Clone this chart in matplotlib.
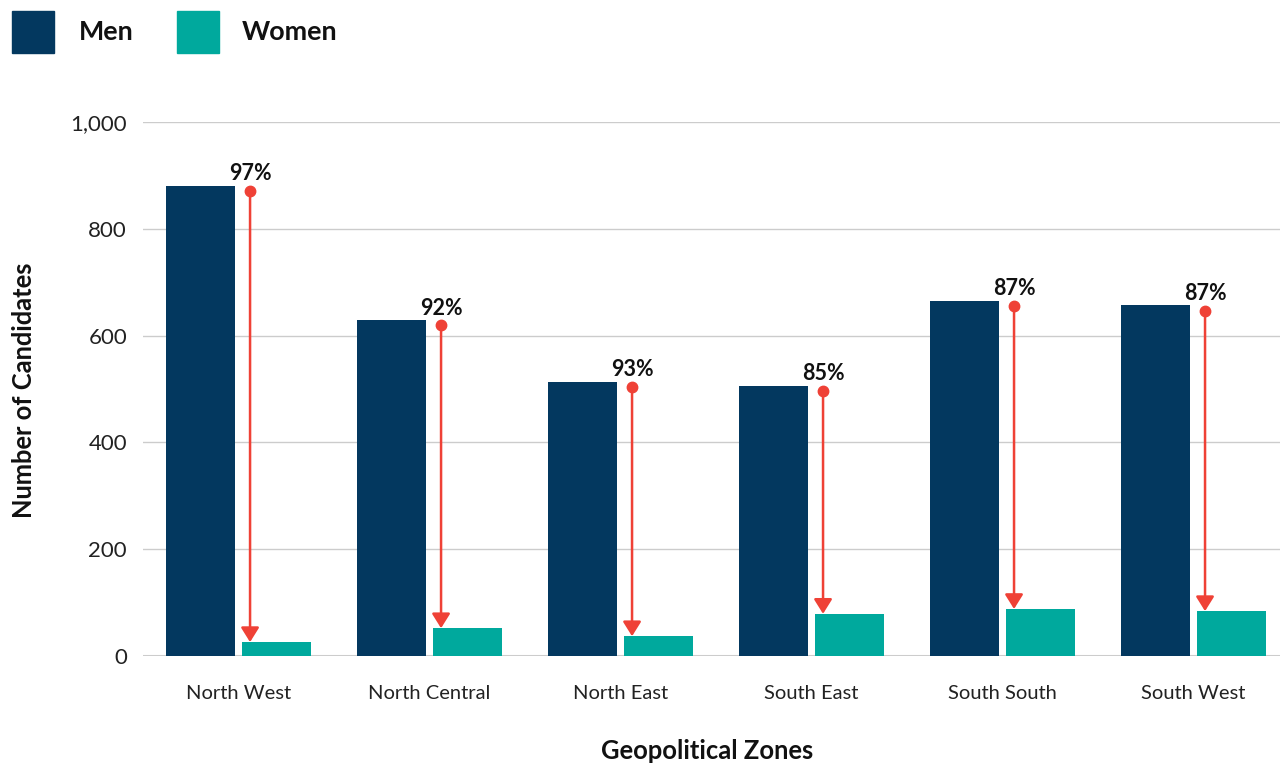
import numpy as np
import matplotlib
matplotlib.use('Agg')
import matplotlib.pyplot as plt
from matplotlib.patches import Rectangle

plt.rcParams['font.family'] = ['Lato', 'DejaVu Sans']

zones = ['North West', 'North Central', 'North East',
         'South East', 'South South', 'South West']
men = [880, 629, 513, 506, 665, 657]
women = [26, 52, 37, 79, 88, 84]
gap_labels = ['97%', '92%', '93%', '85%', '87%', '87%']

men_color = '#03385f'
women_color = '#00a99d'
arrow_color = '#ef4136'

fig = plt.figure(figsize=(12.8, 7.64), dpi=100)
ax = fig.add_axes([143 / 1280, 1 - 656 / 764, 1 - 143 / 1280, (656 - 122) / 764])

x = np.arange(len(zones))
w = 0.361
off = 0.199
ax.bar(x - off, men, width=w, color=men_color, zorder=3)
ax.bar(x + off, women, width=w, color=women_color, zorder=3)

# red arrows from the men's bar height down to the women's bar
ax_x = x + off - w / 2 + 0.042
for xi, m, f, lab in zip(ax_x, men, women, gap_labels):
    top = m - 10
    ax.annotate('', xy=(xi, f), xytext=(xi, top),
                arrowprops=dict(arrowstyle='-|>,head_length=0.4,head_width=0.25',
                                color=arrow_color, lw=1.8, mutation_scale=22,
                                shrinkA=0, shrinkB=0), zorder=4)
    ax.plot(xi, top, 'o', color=arrow_color, ms=7.5, zorder=5)
    ax.annotate(lab, xy=(xi, top), xytext=(0, 5), textcoords='offset points',
                ha='center', va='bottom', fontsize=15.5, fontweight='bold',
                color='#111111')

ax.set_xlim(-0.5, 5.453)
ax.set_ylim(0, 1000)
ax.set_yticks([0, 200, 400, 600, 800, 1000])
ax.set_yticklabels(['0', '200', '400', '600', '800', '1,000'])
ax.set_xticks(x)
ax.set_xticklabels(zones)
ax.tick_params(axis='both', length=0, colors='#222222')
ax.tick_params(axis='x', pad=21, labelsize=14.5)
ax.tick_params(axis='y', pad=11.5, labelsize=16)
ax.grid(axis='y', color='#cccccc', lw=1, zorder=0)
ax.axhline(0, color='#cccccc', lw=2.2, zorder=2)
for s in ax.spines.values():
    s.set_visible(False)

fig.text(24 / 1280, 1 - 390 / 764, 'Number of Candidates', rotation=90,
         ha='center', va='center', fontsize=18.4, fontweight='bold', color='#111111')
fig.text(707 / 1280, 1 - 751 / 764, 'Geopolitical Zones',
         ha='center', va='center', fontsize=18.4, fontweight='bold', color='#111111')

# legend drawn by hand at the top left
fig.patches.append(Rectangle((12 / 1280, 1 - 53 / 764), 42 / 1280, 42 / 764,
                             transform=fig.transFigure, color=men_color))
fig.patches.append(Rectangle((177 / 1280, 1 - 53 / 764), 42 / 1280, 42 / 764,
                             transform=fig.transFigure, color=women_color))
fig.text(79 / 1280, 1 - 32 / 764, 'Men', ha='left', va='center',
         fontsize=19.4, fontweight='bold', color='#111111')
fig.text(242 / 1280, 1 - 32 / 764, 'Women', ha='left', va='center',
         fontsize=19.4, fontweight='bold', color='#111111')

fig.savefig('out.png', dpi=100)
